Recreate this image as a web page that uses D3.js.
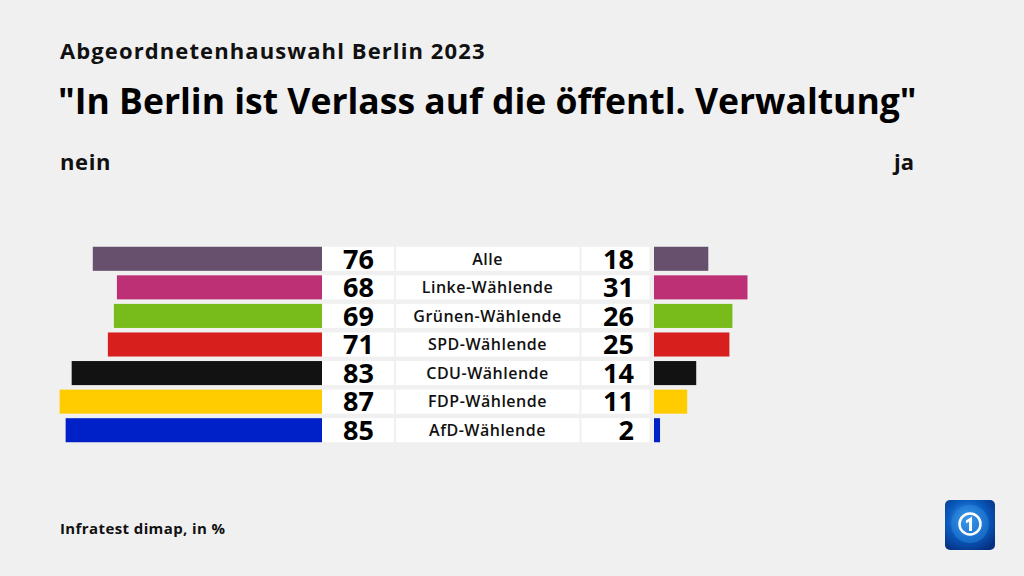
<!DOCTYPE html>
<html><head><meta charset="utf-8">
<script src="https://cdn.jsdelivr.net/npm/d3@7"></script>
<style>
html,body{margin:0;padding:0;background:#f0f0f0;}
svg{display:block;font-family:"Open Sans","Noto Sans",sans-serif;}
</style></head>
<body><svg id="c" width="1024" height="576"></svg>
<script>
const categories = ["Alle","Linke-Wählende","Grünen-Wählende","SPD-Wählende","CDU-Wählende","FDP-Wählende","AfD-Wählende"];
const neinValues = [76,68,69,71,83,87,85];
const jaValues = [18,31,26,25,14,11,2];
const colors = ["#67506e","#be3075","#78bc1b","#d71f1d","#121212","#ffcc00","#0021c7"];

const svg = d3.select("#c");
svg.append("rect").attr("width",1024).attr("height",576).attr("fill","#f0f0f0");

svg.append("text").attr("x",60).attr("y",59).attr("font-size",22).attr("font-weight",700).attr("fill","#111")
  .attr("letter-spacing",1.1).text("Abgeordnetenhauswahl Berlin 2023");
svg.append("text").attr("x",58).attr("y",114).attr("font-size",35.5).attr("font-weight",700).attr("fill","#000")
  .text("\"In Berlin ist Verlass auf die öffentl. Verwaltung\"");
svg.append("text").attr("x",60).attr("y",170).attr("font-size",22).attr("font-weight",700).attr("fill","#111")
  .attr("letter-spacing",0.6).text("nein");
svg.append("text").attr("x",914).attr("y",170).attr("text-anchor","end").attr("font-size",22).attr("font-weight",700).attr("fill","#111").text("ja");

const y = d3.scaleBand().domain(categories).range([244.5,444.5]).paddingInner(0.158).paddingOuter(0.079);
const wScale = d3.scaleLinear().domain([0,100]).range([0,301.6]);
const leftEdge = 322, rightStart = 654;

const rows = svg.append("g").selectAll("g").data(categories).join("g")
  .attr("transform", d => `translate(0,${y(d)})`);
const bh = y.bandwidth();

rows.append("rect").attr("x",(d,i)=>leftEdge - wScale(neinValues[i])).attr("width",(d,i)=>wScale(neinValues[i]))
  .attr("height",bh).attr("fill",(d,i)=>colors[i]);
rows.append("rect").attr("x",rightStart).attr("width",(d,i)=>wScale(jaValues[i]))
  .attr("height",bh).attr("fill",(d,i)=>colors[i]);

rows.append("rect").attr("x",322).attr("width",72).attr("height",bh).attr("fill","#fff");
rows.append("rect").attr("x",396).attr("width",183.5).attr("height",bh).attr("fill","#fff");
rows.append("rect").attr("x",581.5).attr("width",68).attr("height",bh).attr("fill","#fff");

rows.append("text").attr("x",374).attr("y",bh/2).attr("dy","0.36em").attr("text-anchor","end")
  .attr("font-size",27).attr("font-weight",700).attr("fill","#000").text((d,i)=>neinValues[i]);
rows.append("text").attr("x",634).attr("y",bh/2).attr("dy","0.36em").attr("text-anchor","end")
  .attr("font-size",27).attr("font-weight",700).attr("fill","#000").text((d,i)=>jaValues[i]);
rows.append("text").attr("x",487.5).attr("y",bh/2).attr("dy","0.36em").attr("text-anchor","middle")
  .attr("font-size",16).attr("font-weight",600).attr("letter-spacing",0.5).attr("fill","#111").text(d=>d);

svg.append("text").attr("x",60).attr("y",534).attr("font-size",15).attr("font-weight",700).attr("fill","#111")
  .attr("letter-spacing",0.4).text("Infratest dimap, in %");

// logo
const defs = svg.append("defs");
const rg = defs.append("radialGradient").attr("id","lg").attr("cx","45%").attr("cy","40%").attr("r","70%");
rg.append("stop").attr("offset","0%").attr("stop-color","#4aa8f0");
rg.append("stop").attr("offset","55%").attr("stop-color","#0a5cbf");
rg.append("stop").attr("offset","100%").attr("stop-color","#052f80");
const lg = svg.append("g").attr("transform","translate(945,500)");
lg.append("rect").attr("width",50).attr("height",50).attr("rx",5).attr("fill","url(#lg)");
lg.append("circle").attr("cx",25).attr("cy",24).attr("r",19).attr("fill","#2c8ae0").attr("opacity",0.45);
lg.append("circle").attr("cx",25).attr("cy",24).attr("r",10.5).attr("fill","none").attr("stroke","#fff").attr("stroke-width",2.5);
lg.append("path").attr("d","M21 20.5 L27 16.5 L27 31 L24 31 L24 21.8 L21 23.3 Z").attr("fill","#fff");
</script></body></html>
